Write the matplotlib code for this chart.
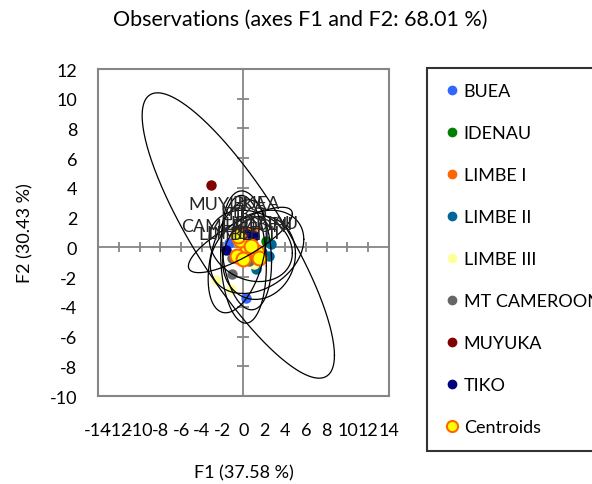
import numpy as np
import matplotlib
matplotlib.use('Agg')
import matplotlib.pyplot as plt
from matplotlib.lines import Line2D

plt.rcParams['font.family'] = ['Lato', 'DejaVu Sans']
plt.rcParams['axes.unicode_minus'] = False

# Grupos y colores
groups = ['BUEA', 'IDENAU', 'LIMBE I', 'LIMBE II', 'LIMBE III', 'MT CAMEROON', 'MUYUKA', 'TIKO']
colors = ['#3366FF', '#008000', '#FF6600', '#006699', '#FFFF99', '#666666', '#800000', '#000080']

# Observaciones (F1, F2) por grupo
obs_x = [
    [0.2, -1.4, 0.6, 0.5],
    [2.2, 1.0, 0.5, 1.2],
    [-0.5, 0.2, 0.8, -0.2, 0.5],
    [2.6, 2.5, 1.25, 1.8],
    [-2.6, -1.2, 1.0, -0.3],
    [-1.1, 0.5, -1.1],
    [-3.1, 0.3],
    [-1.7, 1.0, 0.3],
]
obs_y = [
    [-3.4, 0.3, 0.5, -0.3],
    [0.4, -0.9, -0.2, -1.0],
    [1.2, 1.0, 1.1, 0.5, 0.4],
    [0.2, -0.6, -1.45, -0.3],
    [-2.2, -2.8, -1.15, -0.9],
    [-1.8, -0.9, -0.7],
    [4.2, -0.3],
    [-0.15, 0.75, 0.9],
]

# Centroides
cent_x = [0.3, 1.3, -0.3, 1.5, -0.6, 0.0, -0.5, 0.7]
cent_y = [-0.2, -0.3, 0.5, -0.7, -0.6, -0.8, 0.8, 0.1]

# Elipses de confianza: semiejes en x, y y correlacion
ell_ax = [2.4, 4.5, 5.0, 3.5, 2.8, 2.2, 9.25, 4.0]
ell_ay = [4.0, 2.8, 2.2, 2.8, 3.8, 4.3, 9.6, 2.4]
ell_rho = [-0.2, 0.3, 0.8, 0.1, 0.4, -0.1, -0.84, -0.2]

# Etiquetas de los centroides y su desplazamiento (pt)
cent_labels = ['BUEA', 'IDENAU', 'LIMBE I', 'LIMBE II', 'LIMBE III', 'MT\nCAMEROON', 'MUYUKA', 'TIKO']
lab_dx = [7, 5, -7, 0, 4, -7, -8, -3]
lab_dy = [34, 21, 4, 24, 17, 29, 23, 23]

ticks_x = np.arange(-14, 15, 2)
ticks_y = np.arange(-10, 13, 2)

gray = '#868686'
fs = 13

fig = plt.figure(figsize=(5.92, 4.85), dpi=100)
ax = fig.add_axes([0.1655, 0.1814, 0.4916, 0.6742])

ax.axhline(0, color=gray, lw=1.3, zorder=1)
ax.axvline(0, color=gray, lw=1.3, zorder=1)
ax.plot(ticks_x, np.zeros(len(ticks_x)), ls='none', marker='|', ms=7, mew=1.3, color=gray, zorder=1)
ax.plot(np.zeros(len(ticks_y)), ticks_y, ls='none', marker='_', ms=9, mew=1.3, color=gray, zorder=1)

t = np.linspace(0, 2 * np.pi, 300)
for i in range(len(groups)):
    d = np.arccos(ell_rho[i])
    ex = cent_x[i] + ell_ax[i] * np.cos(t)
    ey = cent_y[i] + ell_ay[i] * np.cos(t + d)
    ax.plot(ex, ey, color='black', lw=0.9, zorder=4)

for i in range(len(groups)):
    ax.plot(obs_x[i], obs_y[i], 'o', ms=6.5, color=colors[i], mec=colors[i], zorder=2)

ax.plot(cent_x, cent_y, 'o', ms=10, mfc='#FFFF00', mec='#FF6600', mew=1.5, ls='none', zorder=3)

for i in range(len(groups)):
    ax.annotate(cent_labels[i], (cent_x[i], cent_y[i]), xytext=(lab_dx[i], lab_dy[i]),
                textcoords='offset points', ha='center', va='center', fontsize=fs,
                color='#262626', linespacing=0.85, zorder=5)

ax.set_xlim(-14, 14)
ax.set_ylim(-10, 12)
ax.set_xticks(ticks_x)
ax.set_yticks(ticks_y)
ax.tick_params(length=0, labelsize=fs)
ax.tick_params(axis='x', pad=19)
ax.tick_params(axis='y', pad=15)
for s in ax.spines.values():
    s.set_color(gray)
    s.set_linewidth(1.5)

ax.set_xlabel('F1 (37.58 %)', fontsize=fs, labelpad=19)
ax.set_ylabel('F2 (30.43 %)', fontsize=fs, labelpad=12)
fig.suptitle('Observations (axes F1 and F2: 68.01 %)', fontsize=15.5, x=0.507, y=0.98)

handles = [Line2D([], [], ls='none', marker='o', ms=6, color=c) for c in colors]
handles.append(Line2D([], [], ls='none', marker='o', ms=8, mfc='#FFFF00', mec='#FF6600', mew=1.5))
leg = fig.legend(handles, groups + ['Centroids'], loc='upper left', bbox_to_anchor=(0.721, 0.858),
                 fontsize=fs, frameon=True, fancybox=False, labelspacing=1.44,
                 handletextpad=0.1, handlelength=1.1, borderpad=0.85, borderaxespad=0)
leg.get_frame().set_edgecolor('black')
leg.get_frame().set_linewidth(1.5)

fig.savefig('out.png', dpi=100)
